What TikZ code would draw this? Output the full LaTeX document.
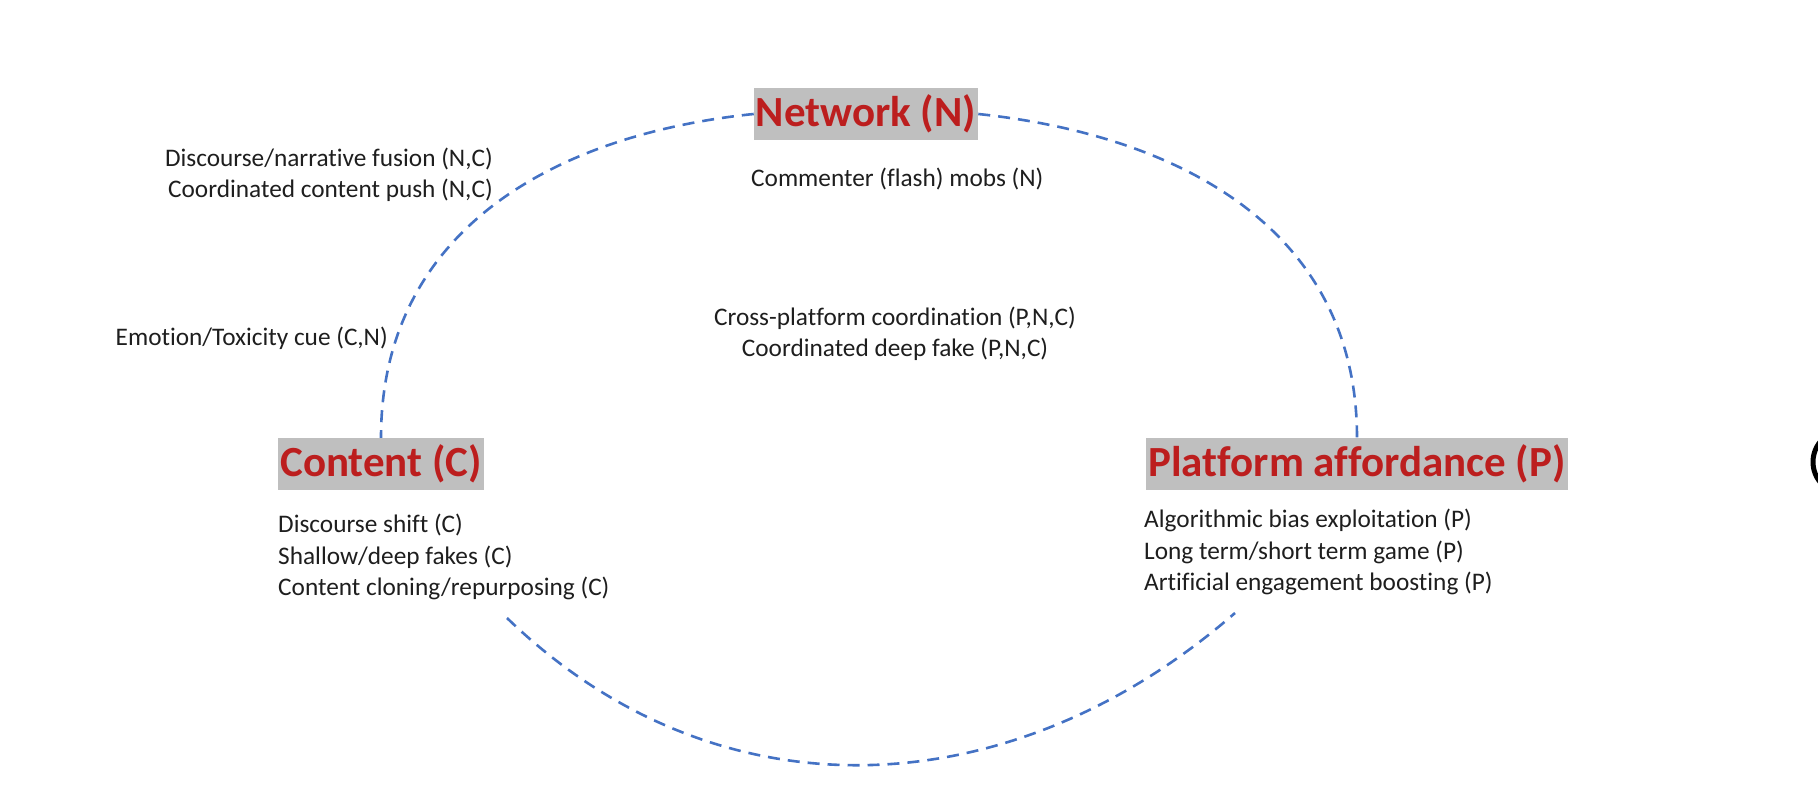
\documentclass[tikz,border=0pt]{standalone}
\usepackage{fontspec}
\setmainfont{Carlito}[Ligatures=NoCommon]
\usetikzlibrary{positioning}
\definecolor{hlgray}{RGB}{191,191,191}
\definecolor{hdred}{RGB}{188,30,30}
\definecolor{ringblue}{RGB}{68,114,196}
\definecolor{itemtext}{RGB}{30,30,30}

\begin{document}
\begin{tikzpicture}[x=1pt,y=1pt,
    head/.style={fill=hlgray,text=hdred,inner xsep=2pt,inner ysep=0pt,minimum height=52pt,
        font=\bfseries\fontsize{43}{50}\selectfont},
    item/.style={text=itemtext,inner sep=0pt,font=\fontsize{25.3}{31.3}\selectfont},
    ring/.style={ringblue,line width=2.6pt,dash pattern=on 12pt off 8pt}]
    \useasboundingbox (0,0) rectangle (1818,800);

    \node (net) at (866,686) [head] {Network (N)};
    \node (con) at (381,336) [head] {Content (C)};
    \node (plat) at (1357,336) [head] {Platform affordance (P)};

    \node (mobs) at (751,621) [item,anchor=west] {Commenter (flash) mobs (N)};
    \node (fusion) at (493,625) [item,anchor=east,align=right] {Discourse/narrative fusion (N,C)\\Coordinated content push (N,C)};
    \node (emotion) at (388,462) [item,anchor=east] {Emotion/Toxicity cue (C,N)};
    \node (cross) at (895,466) [item,align=center] {Cross-platform coordination (P,N,C)\\Coordinated deep fake (P,N,C)};
    \node (conitems) at (278,243) [item,anchor=west,align=left] {Discourse shift (C)\\Shallow/deep fakes (C)\\Content cloning/repurposing (C)};
    \node (platitems) at (1144,248) [item,anchor=west,align=left] {Algorithmic bias exploitation (P)\\Long term/short term game (P)\\Artificial engagement boosting (P)};

    \coordinate (cbot) at (507,182);
    \coordinate (pbot) at (1235,187);

    \draw[ring] (net.west) .. controls +(-203,-21) and +(0,205) .. (con.north);
    \draw[ring] (net.east) .. controls +(207,-22) and +(0,205) .. (plat.north);
    \draw[ring] (cbot) .. controls +(212,-205) and +(-223,-194) .. (pbot);

    \draw[line width=5pt] (1845,338) circle (32);
\end{tikzpicture}
\end{document}
